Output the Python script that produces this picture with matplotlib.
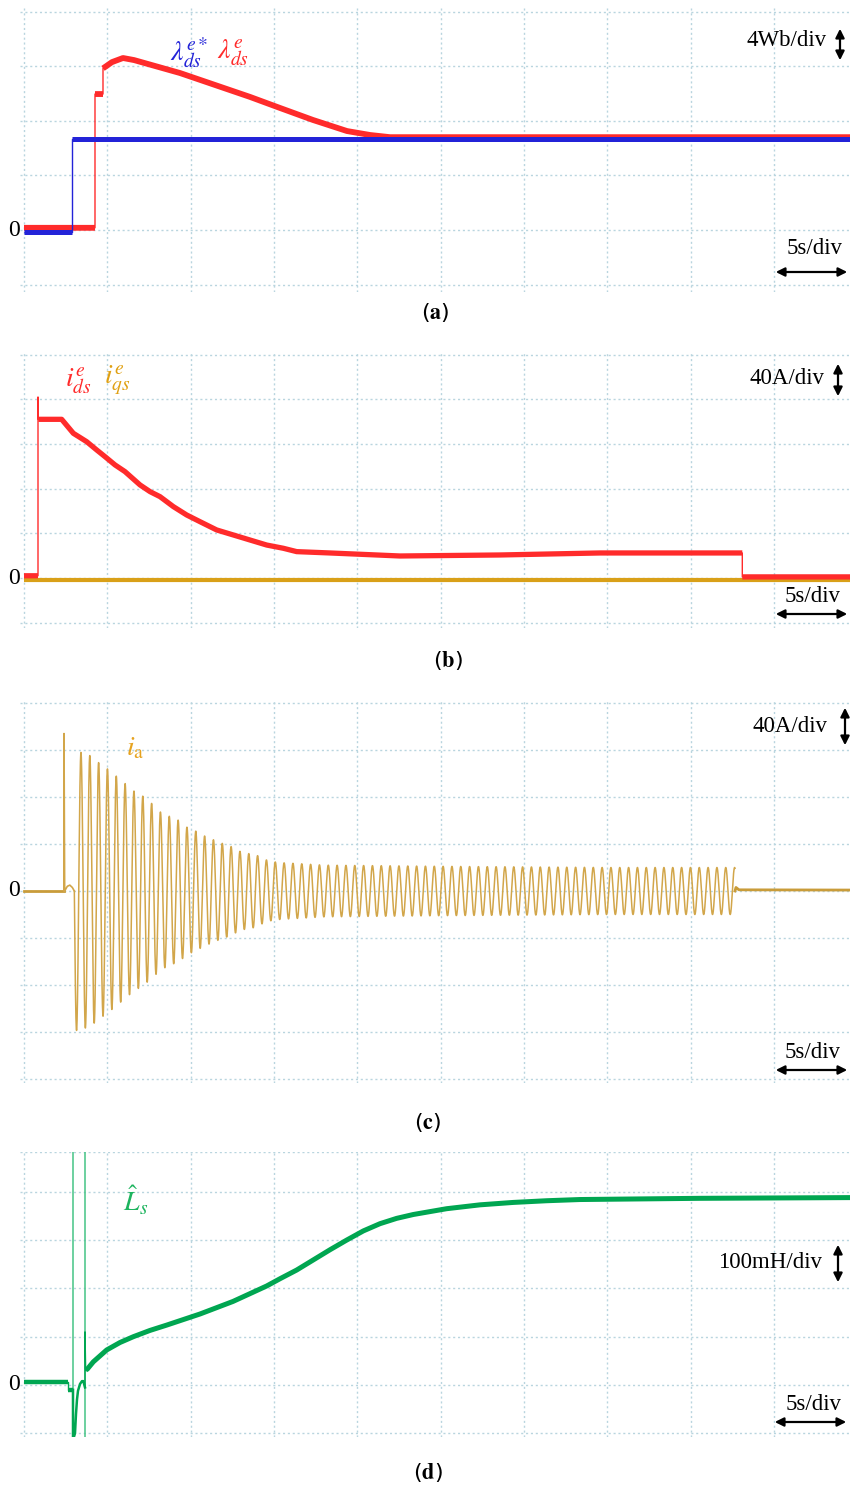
import numpy as np
import matplotlib
matplotlib.use('Agg')
import matplotlib.pyplot as plt
from matplotlib.patches import FancyArrowPatch

W, H = 850, 1486
plt.rcParams['mathtext.fontset'] = 'stix'
SERIF = ['Liberation Serif', 'DejaVu Serif']

# ---------------- data (time in s, 5 s/div) ----------------
# (a) flux, Wb (4 Wb/div)
lam_ref_t = [0, 2.88, 2.88, 49.6]
lam_ref_v = [-0.16, -0.16, 6.7, 6.7]
lam_t = [0, 4.26, 4.26, 4.74, 4.74, 5.28, 5.94, 6.6, 9.36, 13.56, 15.36,
         17.34, 19.38, 20.76, 21.96, 49.6]
lam_v = [0.16, 0.16, 9.96, 9.96, 11.84, 12.3, 12.6, 12.45, 11.5, 9.75, 8.94,
         8.06, 7.25, 6.96, 6.8, 6.8]

# (b) dq currents, A (40 A/div)
ids_t = [0, 0.84, 0.84, 0.86, 2.26, 2.96, 3.76, 4.36, 4.86, 5.46, 6.06, 6.96,
         7.56, 8.16, 8.96, 9.76, 10.56, 11.56, 12.56, 13.56, 14.56, 15.56,
         16.36, 18.36, 22.56, 28.56, 34.56, 43.1, 43.1, 49.6]
ids_v = [2, 2, 162, 142, 142, 129.5, 122, 114.6, 108.6, 101.2, 95.2, 83.3,
         77.3, 72.8, 63.9, 56.4, 50.4, 43, 38.5, 34, 29.5, 26.6,
         23.6, 22.4, 19.7, 20.6, 22.4, 22.4, 1, 1]
iqs_t = [0, 49.6]
iqs_v = [-1.5, -1.5]

# (c) phase current, A (40 A/div): flat parts and oscillation envelope
ia_pre_t = [0, 2.4, 2.4, 2.44, 2.6, 2.75, 2.9, 3.02]
ia_pre_v = [0, 0, 134, 0, 4, 5, 3, 0]
ia_env_t = [3.02, 3.4, 4.0, 4.5, 5.0, 5.6, 6.1, 6.6, 7.1, 7.7, 8.2, 8.8, 9.3,
            9.8, 10.3, 10.8, 11.3, 11.8, 12.4, 12.9, 13.4, 13.9, 14.4, 14.9,
            15.5, 16.1, 18.0, 25.0, 35.0, 42.66]
ia_env_v = [119, 118, 115, 109, 104, 97, 91, 85, 81, 74, 67, 63, 60,
            54, 51, 47, 44, 41, 38, 34, 32, 31, 27, 25,
            24, 23.6, 22, 21, 20, 20]
ia_period = 0.53
ia_post_t = [42.66, 42.72, 42.9, 49.6]
ia_post_v = [0, 3, 1, 0.8]

# (d) estimated inductance, mH (100 mH/div)
ls_pre_t = [0, 2.64, 2.64, 2.94]
ls_pre_v = [6, 6, -10, -10]
ls_mid_t = [2.94, 2.94, 3.0, 3.06, 3.12, 3.18, 3.24, 3.36, 3.48, 3.56, 3.66]
ls_mid_v = [-10, -115, -107, -100, -60, -30, -12, 2, 8, 8, -5]
ls_t = [3.66, 3.66, 3.7, 3.8, 4.16, 4.96, 5.76, 6.56, 7.56, 8.56, 10.56,
        12.54, 14.56, 15.36, 16.36, 17.36, 18.36, 19.36, 20.36, 21.36, 22.36,
        23.36, 25.36, 27.36, 29.36, 31.36, 33.36, 40.56, 49.6]
ls_v = [-5, 110, 31, 33, 48, 72.5, 88, 100, 113, 124, 147,
        173, 205, 220, 238, 259, 280, 300, 319, 334, 345,
        353, 365, 373, 378, 381.5, 384, 386.5, 388]
ls_marks = [2.94, 3.66]

# ---------------- helpers ----------------
fig = plt.figure(figsize=(W / 100, H / 100), dpi=100)
fig.patch.set_facecolor('white')

GRID = '#b9d5df'


def make_ax(y_top, y_bot, zero_y, px_per_div, unit_per_div, top_line=False):
    x0, x1 = 20, 850
    ax = fig.add_axes([x0 / W, 1 - y_bot / H, (x1 - x0) / W, (y_bot - y_top) / H])
    t_per_px = 5 / 83.33
    ax.set_xlim(-(24 - x0) * t_per_px, (x1 - 24) * t_per_px)
    upp = unit_per_div / px_per_div
    ax.set_ylim(-(y_bot - zero_y) * upp, (zero_y - y_top) * upp)
    ax.set_xticks(np.arange(0, 50, 5))
    yt = np.arange(-10, 11) * unit_per_div
    lo, hi = ax.get_ylim()
    ax.set_yticks(yt[(yt >= lo) & (yt <= hi)])
    ax.grid(True, color=GRID, linestyle=(0, (1.5, 2.0)), linewidth=1.0)
    ax.set_axisbelow(True)
    for s in ax.spines.values():
        s.set_visible(False)
    ax.tick_params(left=False, bottom=False, labelleft=False, labelbottom=False)
    ax.set_facecolor('none')
    if top_line:
        ax.axhline(hi, color=GRID, linestyle=(0, (1.5, 2.0)), linewidth=1.0)
    return ax


def thick_pieces(t, v, gap=0.05):
    out_t, out_v = [t[0]], [v[0]]
    for i in range(1, len(t)):
        if t[i] - t[i - 1] < gap:
            out_t.append(np.nan)
            out_v.append(np.nan)
        out_t.append(t[i])
        out_v.append(v[i])
    return out_t, out_v


def trace(ax, t, v, color, lw):
    ax.plot(t, v, color=color, lw=1.0, solid_capstyle='butt')
    tt, vv = thick_pieces(t, v)
    ax.plot(tt, vv, color=color, lw=lw, solid_capstyle='butt')


def ftext(x, y, s, **kw):
    kw.setdefault('ha', 'center')
    kw.setdefault('va', 'center')
    fig.text(x / W, 1 - y / H, s, **kw)


def farrow(x0, y0, x1, y1):
    a = FancyArrowPatch((x0 / W, 1 - y0 / H), (x1 / W, 1 - y1 / H),
                        transform=fig.transFigure, arrowstyle='<|-|>',
                        mutation_scale=13, lw=1.6, color='black')
    fig.add_artist(a)


BLUE = '#2323d8'
RED = '#ff2b2b'
ORANGE = '#d9a018'
GOLD = '#d2a64a'
GREEN = '#00a651'

# ---------------- (a) ----------------
axa = make_ax(8, 292, 230, 54.6, 4)
trace(axa, lam_t, lam_v, RED, 4.2)
trace(axa, lam_ref_t, lam_ref_v, BLUE, 3.6)

# ---------------- (b) ----------------
axb = make_ax(352, 628, 578, 44.7, 40)
trace(axb, iqs_t, iqs_v, ORANGE, 3.0)
trace(axb, ids_t, ids_v, RED, 3.8)

# ---------------- (c) ----------------
axc = make_ax(700, 1083, 891, 47.0, 40)
ts = np.linspace(ia_env_t[0], ia_env_t[-1], 12000)
env = np.interp(ts, ia_env_t, ia_env_v)
osc = -env * np.sin(2 * np.pi * (ts - ia_env_t[0]) / ia_period)
axc.plot(ts, osc, color=GOLD, lw=1.1)
axc.plot(ia_pre_t[:2], ia_pre_v[:2], color='#c99c3a', lw=2.0)
axc.plot(ia_pre_t[1:], ia_pre_v[1:], color=GOLD, lw=1.2)
axc.plot(ia_post_t, ia_post_v, color='#c99c3a', lw=2.0)

# ---------------- (d) ----------------
axd = make_ax(1152, 1437, 1385, 48.3, 100, top_line=True)
for m in ls_marks:
    axd.axvline(m, color='#45c385', lw=1.1)
trace(axd, ls_pre_t, ls_pre_v, GREEN, 3.2)
axd.plot(ls_mid_t, ls_mid_v, color=GREEN, lw=1.8)
axd.plot(ls_t, ls_v, color=GREEN, lw=1.0)
tt, vv = thick_pieces(ls_t, ls_v, gap=0.045)
axd.plot(tt, vv, color=GREEN, lw=3.6, solid_capstyle='butt')

# ---------------- annotations ----------------
fs_div = 16.5
for y in (230, 578, 890, 1385):
    ftext(14, y, '0', family=SERIF, fontsize=17)

ftext(787, 41, '4Wb/div', family=SERIF, fontsize=fs_div)
farrow(840, 26, 840, 63)
ftext(815, 249, '5s/div', family=SERIF, fontsize=fs_div)
farrow(773, 272, 850, 272)

ftext(787, 379, '40A/div', family=SERIF, fontsize=fs_div)
farrow(838, 361, 838, 399)
ftext(813, 597, '5s/div', family=SERIF, fontsize=fs_div)
farrow(773, 614, 850, 614)

ftext(790, 726, '40A/div', family=SERIF, fontsize=fs_div)
farrow(845, 705, 845, 748)
ftext(813, 1052, '5s/div', family=SERIF, fontsize=fs_div)
farrow(773, 1070, 850, 1070)

ftext(770, 1263, '100mH/div', family=SERIF, fontsize=fs_div)
farrow(838, 1242, 838, 1285)
ftext(814, 1404, '5s/div', family=SERIF, fontsize=fs_div)
farrow(772, 1422, 849, 1422)

fs_lab = 20
ftext(189, 53, r'$\lambda_{ds}^{e*}$', fontsize=fs_lab, color=BLUE)
ftext(233, 53, r'$\lambda_{ds}^{e}$', fontsize=fs_lab, color=RED)
ftext(78, 381, r'$i_{ds}^{e}$', fontsize=fs_lab, color=RED)
ftext(117, 381, r'$i_{qs}^{e}$', fontsize=fs_lab, color='#e0a012')
ftext(135, 747, r'$i_{\mathrm{a}}$', fontsize=fs_lab, color='#e6a21e')
ftext(136, 1201, r'$\hat{L}_{s}$', fontsize=fs_lab, color='#1db45e')

for x, y, s in ((435, 312, 'a'), (448, 660, 'b'), (428, 1122, 'c'), (428, 1473, 'd')):
    ftext(x, y, r'($\mathbf{' + s + r'}$)', fontsize=16)

fig.savefig('out.png', dpi=100, facecolor='white')
